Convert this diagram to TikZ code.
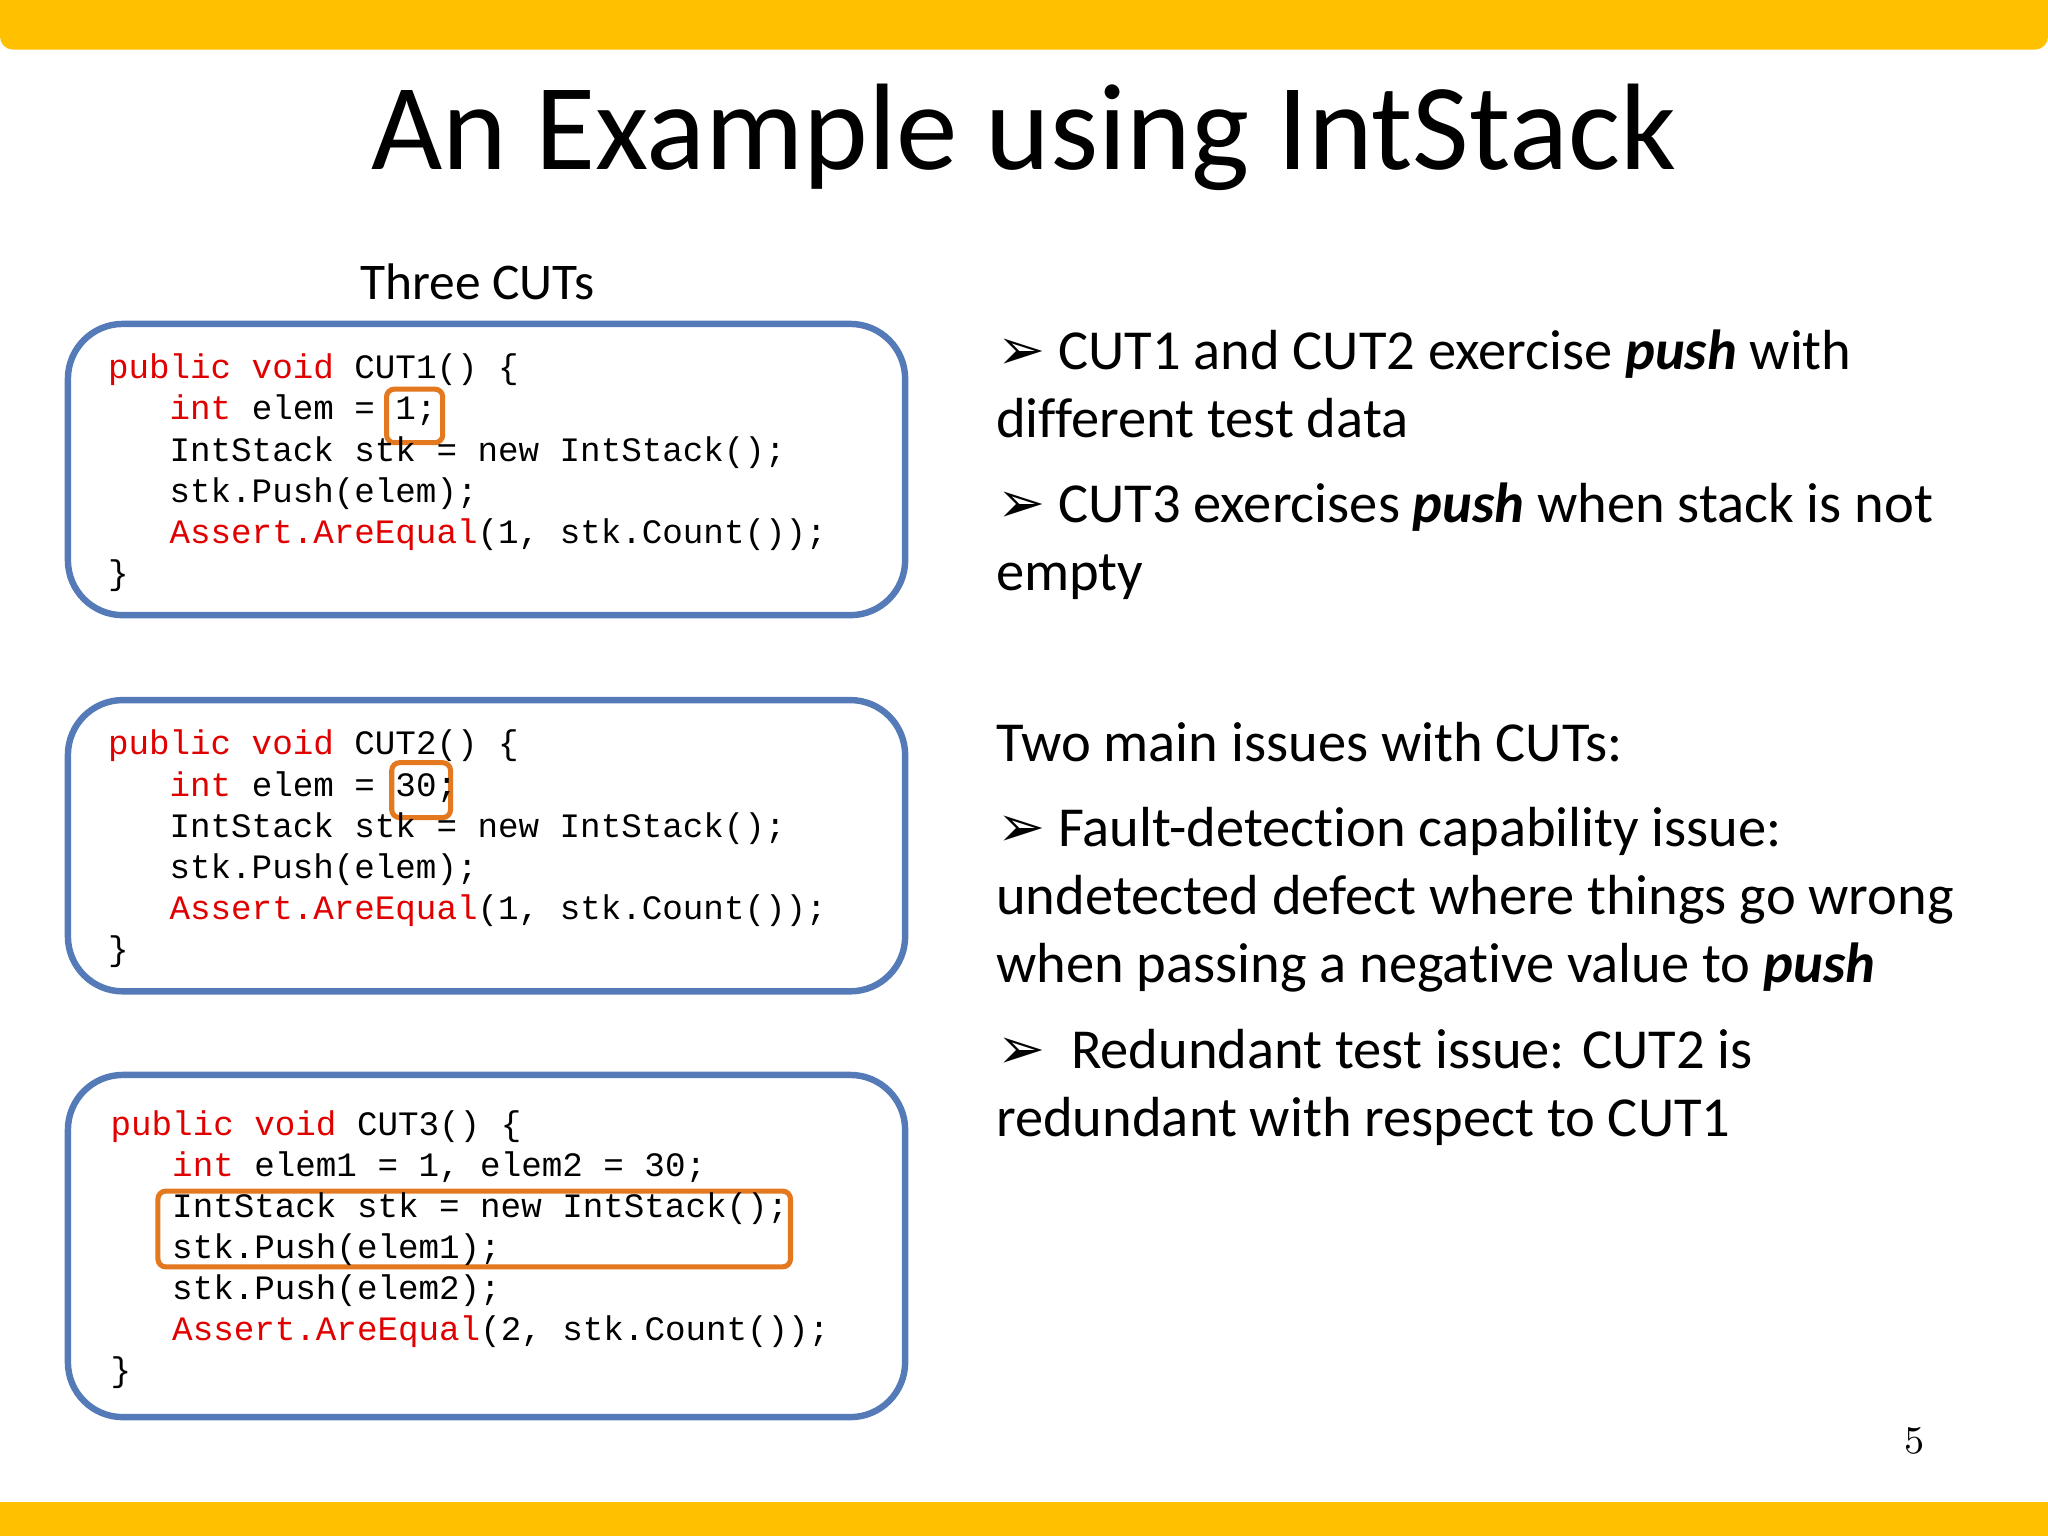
\documentclass[tikz,border=0pt]{standalone}
\usepackage{fontspec}
\setmainfont{Carlito}[Ligatures={NoCommon}]
\setmonofont{Liberation Mono}
\newfontfamily\dejavu{DejaVu Sans}
\definecolor{topyellow}{RGB}{255,192,0}
\definecolor{bframe}{RGB}{84,123,183}
\definecolor{kw}{RGB}{225,0,0}
\definecolor{hl}{RGB}{228,120,30}
\tikzset{
 codeline/.style={anchor=base west,inner sep=0,font=\ttfamily\fontsize{7.45}{9}\selectfont},
 txt/.style={anchor=base west,inner sep=0,font=\fontsize{12.3}{15}\selectfont},
 cutbox/.style={draw=bframe,line width=1.4pt,rounded corners=0.42cm},
 hlbox/.style={draw=hl,line width=1.1pt,rounded corners=0.06cm,fill=white,fill opacity=0.3}
}
\newcommand{\kwd}[1]{\textcolor{kw}{#1}}
\newcommand{\bul}{{\dejavu\fontsize{12.5}{12}\selectfont ➢}}
\begin{document}
\begin{tikzpicture}[x=0.01cm,y=-0.01cm]
\useasboundingbox (0,0) rectangle (1568,1176);
\fill[topyellow,rounded corners=0.1cm] (0,-20) rectangle (1568,38);
\fill[topyellow] (0,1150) rectangle (1568,1176);
\node[anchor=base,inner sep=0,font=\fontsize{26.8}{30}\selectfont] (title) at (784,130) {An Example using IntStack};
\node[anchor=base west,inner sep=0,font=\fontsize{11.2}{13}\selectfont] (three) at (275,229) {Three CUTs};
% boxes
\draw[cutbox] (52,248) rectangle (693,471);
\draw[cutbox] (52,536) rectangle (693,759);
\draw[cutbox] (52,823) rectangle (693,1085);
\node[hlbox,minimum width=0.43cm,minimum height=0.41cm,anchor=north west] (h1) at (294,296) {};
\node[hlbox,minimum width=0.45cm,minimum height=0.42cm,anchor=north west] (h2) at (298,582) {};
\node[hlbox,minimum width=4.84cm,minimum height=0.58cm,anchor=north west] (h3) at (119,910) {};
% code 1
\node[codeline] (a1) at (82,290) {\kwd{public void} CUT1() \{};
\node[codeline] (a2) at (82,321.5) {\ \ \ \kwd{int} elem = 1;};
\node[codeline] (a3) at (82,353) {\ \ \ IntStack stk = new IntStack();};
\node[codeline] (a4) at (82,384.5) {\ \ \ stk.Push(elem);};
\node[codeline] (a5) at (82,416) {\ \ \ \kwd{Assert.AreEqual}(1, stk.Count());};
\node[codeline] (a6) at (82,447.5) {\}};
% code 2
\node[codeline] (c1) at (82,578) {\kwd{public void} CUT2() \{};
\node[codeline] (c2) at (82,609.5) {\ \ \ \kwd{int} elem = 30;};
\node[codeline] (c3) at (82,641) {\ \ \ IntStack stk = new IntStack();};
\node[codeline] (c4) at (82,672.5) {\ \ \ stk.Push(elem);};
\node[codeline] (c5) at (82,704) {\ \ \ \kwd{Assert.AreEqual}(1, stk.Count());};
\node[codeline] (c6) at (82,735.5) {\}};
% code 3
\node[codeline] (d1) at (84,869) {\kwd{public void} CUT3() \{};
\node[codeline] (d2) at (84,900.5) {\ \ \ \kwd{int} elem1 = 1, elem2 = 30;};
\node[codeline] (d3) at (84,932) {\ \ \ IntStack stk = new IntStack();};
\node[codeline] (d4) at (84,963.5) {\ \ \ stk.Push(elem1);};
\node[codeline] (d5) at (84,995) {\ \ \ stk.Push(elem2);};
\node[codeline] (d6) at (84,1026.5) {\ \ \ \kwd{Assert.AreEqual}(2, stk.Count());};
\node[codeline] (d7) at (84,1058) {\}};
% right text
\node[txt] (r1) at (763,283) {\bul\ CUT1 and CUT2 exercise \textbf{\textit{push}} with};
\node[txt] (r2) at (762,335) {different test data};
\node[txt] (r3) at (763,400) {\bul\ CUT3 exercises \textbf{\textit{push}} when stack is not};
\node[txt] (r4) at (762,452) {empty};
\node[txt] (r5) at (762,583) {Two main issues with CUTs:};
\node[txt] (r6) at (763,648) {\bul\ Fault-detection capability issue:};
\node[txt] (r7) at (762,700) {undetected defect where things go wrong};
\node[txt] (r8) at (762,752) {when passing a negative value to \textbf{\textit{push}}};
\node[txt] (r9) at (763,818) {\bul\ \ Redundant test issue: CUT2 is};
\node[txt] (r10) at (762,870) {redundant with respect to CUT1};
\node[anchor=base,inner sep=0,font=\fontfamily{lmr}\fontsize{8.5}{10}\selectfont] (pg) at (1466,1113) {5};
\end{tikzpicture}
\end{document}
